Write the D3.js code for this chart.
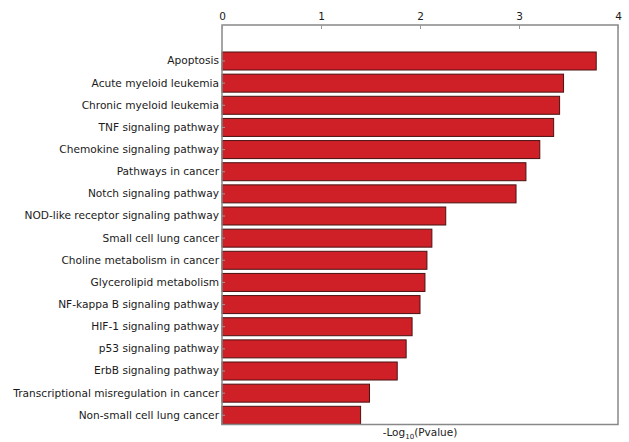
<!DOCTYPE html>
<html><head><meta charset="utf-8">
<script src="https://cdn.jsdelivr.net/npm/d3@7"></script>
<style>body{margin:0;background:#fff}svg{display:block}</style>
</head><body>
<script>
const categories = ["Apoptosis","Acute myeloid leukemia","Chronic myeloid leukemia","TNF signaling pathway","Chemokine signaling pathway","Pathways in cancer","Notch signaling pathway","NOD-like receptor signaling pathway","Small cell lung cancer","Choline metabolism in cancer","Glycerolipid metabolism","NF-kappa B signaling pathway","HIF-1 signaling pathway","p53 signaling pathway","ErbB signaling pathway","Transcriptional misregulation in cancer","Non-small cell lung cancer"];
const values = [3.78,3.45,3.41,3.35,3.21,3.07,2.97,2.26,2.12,2.07,2.05,2.00,1.92,1.86,1.77,1.49,1.40];
const xTicks = [0,1,2,3,4];

(function(){
const W=629,H=442;
const mL=222,mR=618,mT=25,mB=424.5;
const svg=d3.select("body").append("svg").attr("width",W).attr("height",H);
const x=d3.scaleLinear().domain([0,4]).range([mL,mR]);
const y=d3.scaleBand().domain(categories).range([52,424.3]).paddingInner(0.187).paddingOuter(0);

svg.append("g").selectAll("rect").data(values).join("rect")
  .attr("x",x(0)).attr("y",(d,i)=>y(categories[i]))
  .attr("width",d=>x(d)-x(0)).attr("height",y.bandwidth())
  .attr("fill","#d02027").attr("stroke","#4a1212").attr("stroke-width",1);

svg.append("rect").attr("x",mL).attr("y",mT).attr("width",mR-mL).attr("height",mB-mT)
  .attr("fill","none").attr("stroke","#888").attr("stroke-width",1.5);

const xa=svg.append("g").attr("transform",`translate(0,${mT})`)
  .call(d3.axisTop(x).tickValues(xTicks).tickFormat(d3.format("d")).tickSize(-4).tickPadding(5));
xa.select(".domain").remove();
xa.selectAll("line").attr("stroke","#999");
xa.selectAll("text").attr("font-family","DejaVu Sans").attr("font-size",10.5).attr("fill","#1a1a1a");

const ya=svg.append("g").attr("transform",`translate(${mL},0)`)
  .call(d3.axisLeft(y).tickSize(-3).tickPadding(3));
ya.select(".domain").remove();
ya.selectAll("line").attr("stroke","#999");
ya.selectAll("text").attr("font-family","DejaVu Sans").attr("font-size",10.6).attr("fill","#1a1a1a");

const t=svg.append("text").attr("x",(mL+mR)/2).attr("y",436).attr("text-anchor","middle")
  .attr("font-family","DejaVu Sans").attr("font-size",10.5).attr("fill","#222");
t.append("tspan").text("-Log");
t.append("tspan").attr("font-size",7).attr("dy",2.5).text("10");
t.append("tspan").attr("dy",-2.5).text("(Pvalue)");
})();
</script>
</body></html>
